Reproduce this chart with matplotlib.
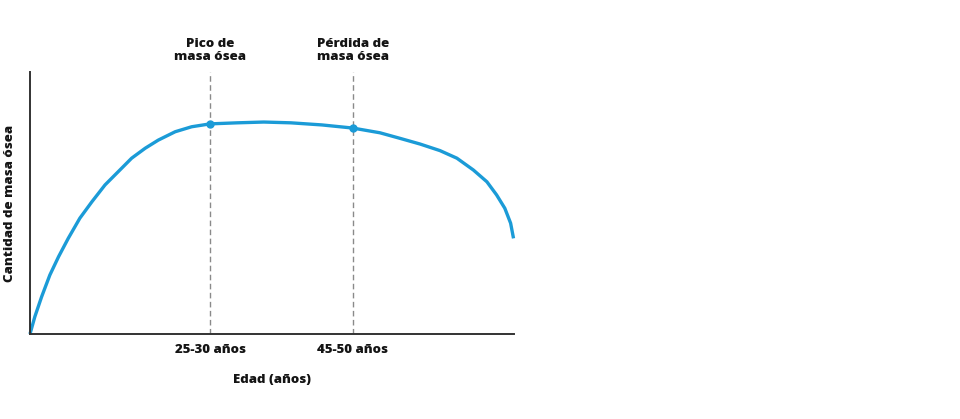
import matplotlib.pyplot as plt

plt.rcParams['font.family'] = ['Open Sans', 'DejaVu Sans']

# curve (relative units: x 0-100 age axis, y 0-100 bone mass)
edad = [0, 1.0, 2.4, 4.1, 5.9, 7.9, 10.3, 12.8, 15.5, 18.2, 21.0, 23.8, 26.5,
        30.0, 33.4, 37.2, 42.8, 48.3, 53.9, 60.3, 66.7, 72.3, 76.4, 80.6,
        84.7, 88.2, 91.6, 94.4, 96.4, 98.1, 99.3, 99.9]
masa = [0, 6.6, 14.2, 22.5, 29.5, 36.5, 44.2, 50.5, 56.9, 61.9, 67.1, 70.9, 74.0,
        77.2, 79.1, 80.2, 80.6, 80.9, 80.6, 79.8, 78.6, 76.8, 74.7, 72.5,
        70.0, 67.1, 62.6, 58.1, 53.1, 48.0, 42.3, 36.5]

hitos_x = [37.2, 66.7]
hitos_y = [80.2, 78.6]
hitos_tick = ["25-30 años", "45-50 años"]
hitos_titulo = ["Pico de\nmasa ósea", "Pérdida de\nmasa ósea"]

fig = plt.figure(figsize=(9.6, 4.19), dpi=100)
ax = fig.add_axes([30 / 960, 85 / 419, 484 / 960, 262 / 419])

azul = "#1b9bd7"
negro = "#141414"
peso = 800
for hx in hitos_x:
    ax.plot([hx, hx], [0, 100], color="#8a8a8a", lw=1, ls=(0, (4, 2.5)), zorder=1)
ax.plot(edad, masa, color=azul, lw=2.4, solid_capstyle="butt", solid_joinstyle="round",
        clip_on=False, zorder=2)
ax.plot(hitos_x, hitos_y, "o", color=azul, ms=5, zorder=3)

for hx, t in zip(hitos_x, hitos_titulo):
    ax.text(hx, 103.5, t, ha="center", va="bottom", fontsize=9.5, fontweight=peso,
            color=negro, linespacing=1.1)

ax.set_xlim(0, 100)
ax.set_ylim(0, 100)
ax.set_xticks(hitos_x)
ax.set_xticklabels(hitos_tick, fontsize=9.5, fontweight=peso, color=negro)
ax.tick_params(axis="x", length=0, pad=7)
ax.set_yticks([])
ax.set_xlabel("Edad (años)", fontsize=9.5, fontweight=peso, color=negro, labelpad=13)
ax.set_ylabel("Cantidad de masa ósea", fontsize=9.5, fontweight=peso, color=negro, labelpad=10)

for s in ["top", "right"]:
    ax.spines[s].set_visible(False)
for s in ["left", "bottom"]:
    ax.spines[s].set_color("#333333")
    ax.spines[s].set_linewidth(1.4)

fig.savefig("out.png", dpi=100)
